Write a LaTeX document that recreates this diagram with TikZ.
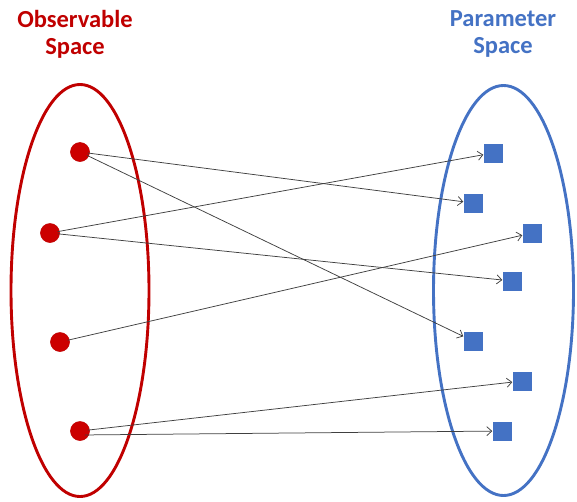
\documentclass[tikz,border=0pt]{standalone}
\usepackage{fontspec}
\setmainfont{Carlito}
\usetikzlibrary{arrows.meta}
\definecolor{obsred}{RGB}{192,0,0}
\definecolor{dotred}{RGB}{204,0,0}
\definecolor{parblue}{RGB}{68,114,196}
\begin{document}
\begin{tikzpicture}[x=1pt, y=-1pt,
  obs/.style={circle, fill=dotred, draw=obsred, line width=.6pt, inner sep=0pt, minimum size=19pt},
  par/.style={rectangle, fill=parblue, inner sep=0pt, minimum size=19pt},
  lbl/.style={align=center, font=\fontsize{24.5}{27}\selectfont\bfseries},
  map/.style={-{Straight Barb[length=5pt, width=9pt]}, draw=black!75, line width=.75pt, shorten <=-2pt}]
\useasboundingbox (0,0) rectangle (577,501);
\draw[obsred, line width=2.9pt] (80,290.5) ellipse (69pt and 206pt);
\draw[parblue, line width=2.9pt] (503.5,290.5) ellipse (70pt and 205pt);
\node[lbl, text=obsred] (obslbl) at (75,34) {Observable\\Space};
\node[lbl, text=parblue] (parlbl) at (503,34) {Parameter\\Space};
\node[obs] (obs1) at (80,152){};
\node[obs] (obs2) at (50,233){};
\node[obs] (obs3) at (60,342){};
\node[obs] (obs4) at (80,431){};
\node[par] (par1) at (493,153){};
\node[par] (par2) at (473,203){};
\node[par] (par3) at (532,233){};
\node[par] (par4) at (512,281){};
\node[par] (par5) at (473,341){};
\node[par] (par6) at (522,381){};
\node[par] (par7) at (502,431){};
\draw[map] (obs1) -- (par2);
\draw[map] (obs1) -- (par5);
\draw[map] (obs2) -- (par1);
\draw[map] (obs2) -- (par4);
\draw[map] (obs3) -- (par3);
\draw[map] (obs4) -- (par6);
\draw[map] (obs4.south east) ++(0,-3) coordinate (low) (low) -- (par7);
\end{tikzpicture}
\end{document}
